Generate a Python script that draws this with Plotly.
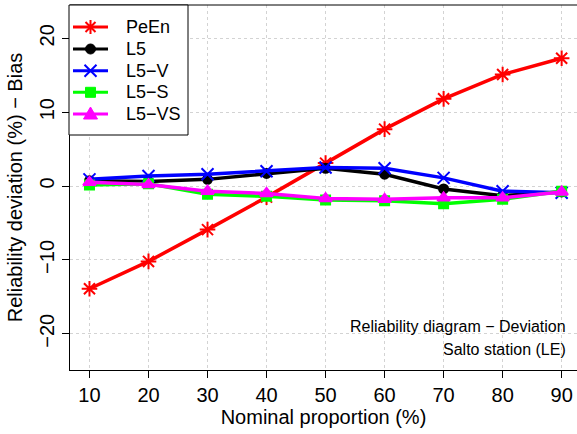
import plotly.graph_objects as go

nominal = [10, 20, 30, 40, 50, 60, 70, 80, 90]
peen = [-13.9, -10.2, -5.9, -1.5, 3.1, 7.7, 11.8, 15.1, 17.3]
l5 = [0.7, 0.6, 0.9, 1.7, 2.4, 1.6, -0.4, -1.3, -0.8]
l5_v = [0.9, 1.35, 1.6, 2.0, 2.5, 2.4, 1.1, -0.7, -0.9]
l5_s = [0.15, 0.3, -1.1, -1.4, -1.9, -2.0, -2.4, -1.8, -0.7]
l5_vs = [0.5, 0.2, -0.7, -1.0, -1.7, -1.8, -1.6, -1.6, -0.8]
y_ticks = [-20, -10, 0, 10, 20]
x_ticks = [10, 20, 30, 40, 50, 60, 70, 80, 90]
series_names = ["PeEn", "L5", "L5\u2212V", "L5\u2212S", "L5\u2212VS"]
series_values = [peen, l5, l5_v, l5_s, l5_vs]
series_colors = ["#FF0000", "#000000", "#0000FF", "#00FF00", "#FF00FF"]
series_symbols = ["asterisk-open", "circle", "x-thin-open", "square", "triangle-up"]
series_sizes = [13, 9, 12, 9, 11]

fig = go.Figure()
for name, vals, color, sym, size in zip(series_names, series_values, series_colors,
                                        series_symbols, series_sizes):
    fig.add_trace(go.Scatter(
        x=nominal, y=vals, name=name, mode="lines+markers", showlegend=False,
        line=dict(color=color, width=3.5),
        marker=dict(symbol=sym, size=size, color=color,
                    line=dict(color=color, width=2)),
    ))

# ---- custom legend (pixel offsets from top-left corner of plot area) ----
shapes = [dict(type="line", xref="paper", yref="paper", x0=0, x1=1, y0=1, y1=1,
               line=dict(color="black", width=1))]
annotations = []


def pix(**kw):
    d = dict(xref="paper", yref="paper", xsizemode="pixel", ysizemode="pixel",
             xanchor=0, yanchor=1, layer="above")
    d.update(kw)
    return d


shapes.append(pix(type="rect", x0=-1, x1=118, y0=0, y1=-130,
                  fillcolor="white", line=dict(color="black", width=1)))
row_offsets = [22, 44, 65.7, 87.3, 109]
mx = 20.5
for name, color, sym, off in zip(series_names, series_colors, series_symbols, row_offsets):
    cy = -off
    shapes.append(pix(type="line", x0=3, x1=38, y0=cy, y1=cy,
                      line=dict(color=color, width=3)))
    if sym.startswith("asterisk"):
        r, d = 7, 5
        p = (f"M{mx-r},{cy} L{mx+r},{cy} M{mx},{cy-r} L{mx},{cy+r} "
             f"M{mx-d},{cy-d} L{mx+d},{cy+d} M{mx-d},{cy+d} L{mx+d},{cy-d}")
        shapes.append(pix(type="path", path=p, line=dict(color=color, width=2)))
    elif sym == "circle":
        shapes.append(pix(type="circle", x0=mx-5, x1=mx+5, y0=cy-5, y1=cy+5,
                          fillcolor=color, line=dict(color=color, width=1)))
    elif sym.startswith("x"):
        d = 6
        p = f"M{mx-d},{cy-d} L{mx+d},{cy+d} M{mx-d},{cy+d} L{mx+d},{cy-d}"
        shapes.append(pix(type="path", path=p, line=dict(color=color, width=2)))
    elif sym == "square":
        shapes.append(pix(type="rect", x0=mx-5, x1=mx+5, y0=cy-5, y1=cy+5,
                          fillcolor=color, line=dict(color=color, width=1)))
    else:
        p = f"M{mx},{cy+7} L{mx+7},{cy-5} L{mx-7},{cy-5} Z"
        shapes.append(pix(type="path", path=p, fillcolor=color,
                          line=dict(color=color, width=1)))
    annotations.append(dict(text=name, xref="paper", yref="paper", x=0, y=1,
                            xshift=54, yshift=cy, xanchor="left", yanchor="middle",
                            showarrow=False, font=dict(size=18)))

annotations += [
    dict(text="Reliability diagram \u2212 Deviation", xref="paper", yref="y",
         x=0.982, y=-19, xanchor="right", yanchor="middle", showarrow=False,
         font=dict(size=16)),
    dict(text="Salto station (LE)", xref="paper", yref="y",
         x=0.982, y=-22.1, xanchor="right", yanchor="middle", showarrow=False,
         font=dict(size=16)),
]

font_family = "Liberation Sans, Arial, sans-serif"
fig.update_layout(
    width=577, height=434,
    margin=dict(l=70, r=0, t=5, b=64),
    paper_bgcolor="white", plot_bgcolor="white",
    font=dict(family=font_family, size=20, color="black"),
    showlegend=False,
    xaxis=dict(range=[6.7, 92.6], tickmode="array", tickvals=x_ticks,
               showline=True, linecolor="black", linewidth=1, mirror=False,
               ticks="outside", ticklen=7, tickcolor="black", automargin=False,
               showgrid=True, gridcolor="#D3D3D3", griddash="dot", gridwidth=1,
               zeroline=False, tickfont=dict(size=20),
               title=dict(text="Nominal proportion (%)", font=dict(size=20), standoff=2)),
    yaxis=dict(range=[-24.9, 24.5], tickmode="array", tickvals=y_ticks,
               ticktext=[str(v).replace("-", "\u2212") for v in y_ticks],
               tickangle=-90, automargin=False,
               showline=True, linecolor="black", linewidth=1, mirror=False,
               ticks="outside", ticklen=7, tickcolor="black",
               showgrid=True, gridcolor="#D3D3D3", griddash="dot", gridwidth=1,
               zeroline=False, tickfont=dict(size=20),
               title=dict(text="Reliability deviation (%) \u2212 Bias", font=dict(size=20), standoff=8)),
    shapes=shapes,
    annotations=annotations,
)

fig.write_html("out.html", config={"displayModeBar": False},
               post_script="document.body.style.margin='0px';")
